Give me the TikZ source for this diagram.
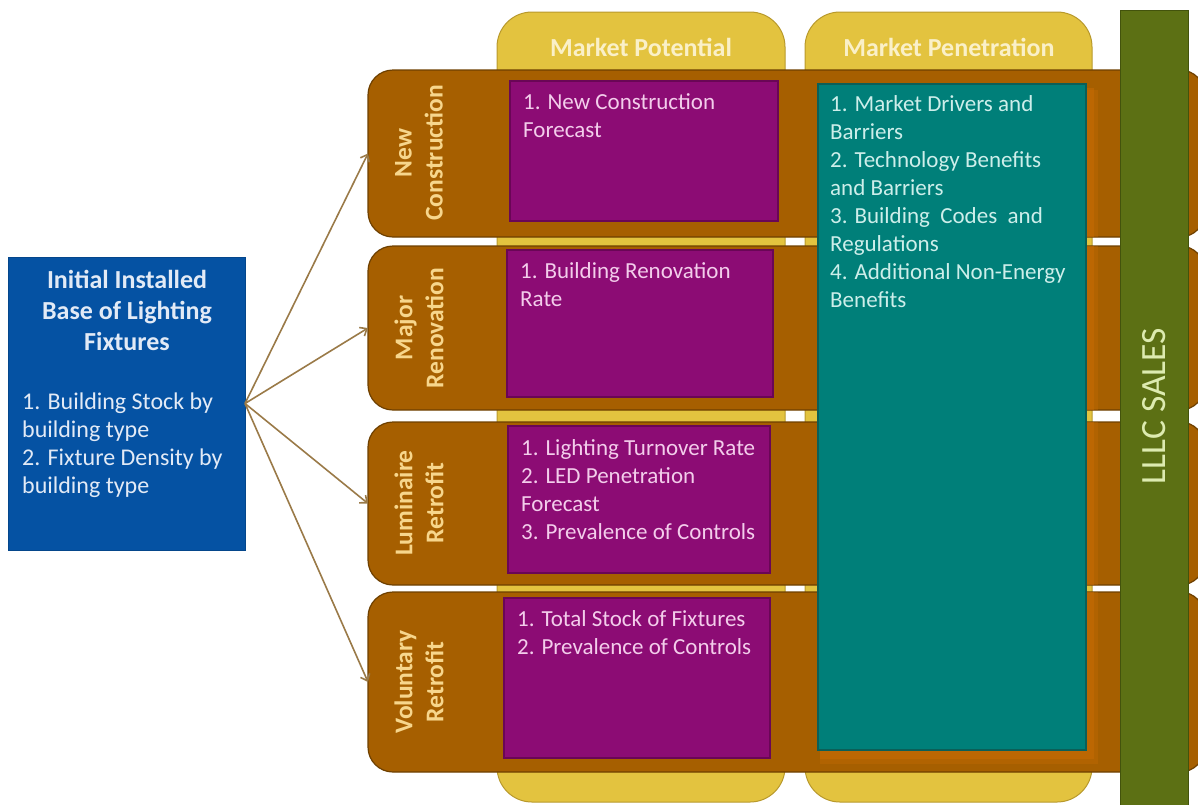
\documentclass[tikz,border=0pt]{standalone}
\usepackage{fontspec}
\setmainfont{Carlito}
\usetikzlibrary{arrows.meta}

\definecolor{rowbrown}{HTML}{A65F00}
\definecolor{rowedge}{HTML}{6E4000}
\definecolor{rowglow}{HTML}{C86C04}
\definecolor{colyellow}{HTML}{E3C33F}
\definecolor{coledge}{HTML}{B8992C}
\definecolor{headtextcol}{HTML}{FAF0C8}
\definecolor{purplebox}{HTML}{8C0C74}
\definecolor{purpleedge}{HTML}{6A0656}
\definecolor{purpletext}{HTML}{F3CDEB}
\definecolor{tealbox}{HTML}{007F79}
\definecolor{tealedge}{HTML}{0B5F58}
\definecolor{tealtext}{HTML}{CDEEEA}
\definecolor{bluebox}{HTML}{0552A3}
\definecolor{bluetext}{HTML}{E2EAF6}
\definecolor{greenbar}{HTML}{5C7014}
\definecolor{greenedge}{HTML}{43530C}
\definecolor{greentext}{HTML}{DDEBB0}
\definecolor{labeltext}{HTML}{F7D68C}
\definecolor{arrowcol}{HTML}{9A7A48}

\tikzset{
  column/.style={draw=coledge, line width=1pt, fill=colyellow, rounded corners=35pt,
    anchor=north west, inner sep=0pt, outer sep=0pt},
  rowband/.style={draw=rowedge, line width=1.2pt, fill=rowbrown, rounded corners=25pt,
    anchor=north west, inner sep=0pt, outer sep=0pt},
  factorbox/.style={draw=purpleedge, line width=1.5pt, fill=purplebox,
    anchor=north west, inner sep=0pt, outer sep=0pt},
  penbox/.style={draw=tealedge, line width=1.5pt, fill=tealbox,
    anchor=north west, inner sep=0pt, outer sep=0pt},
  basebox/.style={draw=bluebox!85!black, line width=0.8pt, fill=bluebox,
    anchor=north west, inner sep=0pt, outer sep=0pt},
  salesbar/.style={draw=greenedge, line width=1pt, fill=greenbar,
    anchor=north west, inner sep=0pt, outer sep=0pt},
  bodytext/.style={font=\fontsize{23}{28}\selectfont, align=left,
    anchor=north west, inner sep=0pt},
  rowlabel/.style={text=labeltext, font=\bfseries\fontsize{25.5}{31}\selectfont,
    align=center, rotate=90, inner sep=0pt},
  headtext/.style={text=headtextcol, font=\bfseries\fontsize{26}{30}\selectfont, inner sep=0pt},
  feed/.style={draw=arrowcol, line width=1.6pt, -{Straight Barb[length=6pt,width=10pt]}}
}

\begin{document}
\begin{tikzpicture}[x=1pt,y=-1pt]
\useasboundingbox (0,0) rectangle (1198,804);
\clip (0,0) rectangle (1198,804);

% yellow columns behind the rows
\node[column, minimum width=288pt, minimum height=790pt] (colpot) at (497,12) {};
\node[column, minimum width=287pt, minimum height=790pt] (colpen) at (805,12) {};
\node[headtext] (hpot) at (641,47) {Market Potential};
\node[headtext] (hpen) at (949,47) {Market Penetration};

% brown rows, one per market segment
\node[rowband, minimum width=837pt, minimum height=167pt] (r1) at (368,70) {};
\node[rowband, minimum width=837pt, minimum height=164pt] (r2) at (368,246) {};
\node[rowband, minimum width=837pt, minimum height=163pt] (r3) at (368,422) {};
\node[rowband, minimum width=837pt, minimum height=180pt] (r4) at (368,592) {};

\node[rowlabel] (l1) at (419,153) {New\\Construction};
\node[rowlabel] (l2) at (419,328) {Major\\Renovation};
\node[rowlabel] (l3) at (419,503) {Luminaire\\Retrofit};
\node[rowlabel] (l4) at (419,682) {Voluntary\\Retrofit};

% market potential factors
\node[factorbox, minimum width=268pt, minimum height=140pt] (p1) at (510,81) {};
\node[factorbox, minimum width=266pt, minimum height=147pt] (p2) at (507,250) {};
\node[factorbox, minimum width=262pt, minimum height=147pt] (p3) at (508,426) {};
\node[factorbox, minimum width=266pt, minimum height=160pt] (p4) at (504,598) {};

\node[bodytext, text=purpletext] (t1) at (523,93) {1. New Construction\\Forecast};
\node[bodytext, text=purpletext] (t2) at (520,262) {1. Building Renovation\\Rate};
\node[bodytext, text=purpletext] (t3) at (521,439) {1. Lighting Turnover Rate\\2. LED Penetration\\Forecast\\3. Prevalence of Controls};
\node[bodytext, text=purpletext] (t4) at (517,610) {1. Total Stock of Fixtures\\2. Prevalence of Controls};

% soft lighter glow around the penetration box, kept inside the rows
\begin{scope}
  \clip (368,70) rectangle (1205,237) (368,246) rectangle (1205,410)
        (368,422) rectangle (1205,585) (368,592) rectangle (1205,772);
  \fill[rowglow, opacity=0.35] (820,90) rectangle (1098,764);
  \fill[rowglow, opacity=0.5] (820,88) rectangle (1094,759);
\end{scope}

% market penetration factors
\node[penbox, minimum width=268pt, minimum height=666pt] (pen) at (818,84) {};
\node[bodytext, text=tealtext] (tpen) at (830,95) {1. Market Drivers and\\Barriers\\2. Technology Benefits\\and Barriers\\3. Building\ \ Codes\ \ and\\Regulations\\4. Additional\ Non-Energy\\Benefits};

% sales bar
\node[salesbar, minimum width=68pt, minimum height=800pt] (sales) at (1120,10) {};
\node[text=greentext, font=\fontsize{35.5}{38}\selectfont, rotate=90, inner sep=0pt] (tsales) at (1154,406) {LLLC SALES};

% installed base
\node[basebox, minimum width=237pt, minimum height=293pt] (base) at (8,257) {};
\node[text=bluetext, font=\bfseries\fontsize{26}{31}\selectfont, align=center, anchor=north, inner sep=0pt] (tbase) at (127,270) {Initial Installed\\Base of Lighting\\Fixtures};
\node[bodytext, text=bluetext, font=\fontsize{24}{28}\selectfont] (tbody) at (22,393) {1. Building Stock by\\building type\\2. Fixture Density by\\building type};

% feeds into each segment
\draw[feed] (base.east) -- (r1.west);
\draw[feed] (base.east) -- (r2.west);
\draw[feed] (base.east) -- (r3.west);
\draw[feed] (base.east) -- (r4.west);
\end{tikzpicture}
\end{document}
